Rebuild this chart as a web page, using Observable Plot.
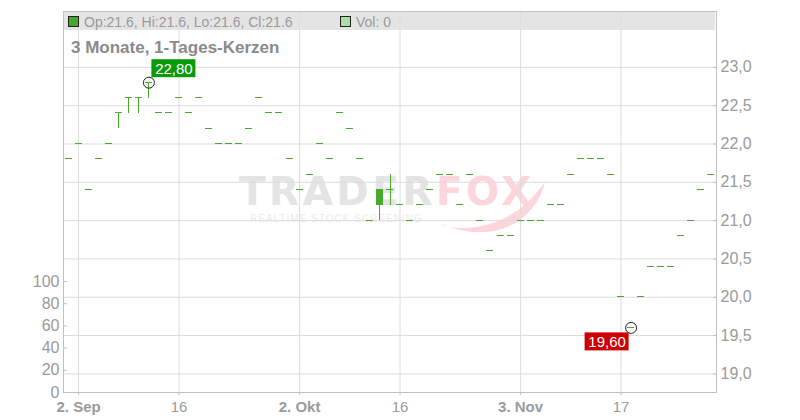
<!DOCTYPE html>
<html>
<head>
<meta charset="utf-8">
<script src="https://cdn.jsdelivr.net/npm/d3@7"></script>
<script src="https://cdn.jsdelivr.net/npm/@observablehq/plot@0.6"></script>
<style>
  body { margin: 0; background: #fff; font-family: "Liberation Sans", Arial, sans-serif; }
  #wrap { position: relative; width: 800px; height: 420px; overflow: hidden; }
  .layer { position: absolute; left: 0; top: 0; width: 800px; height: 420px; }
  #hdr { pointer-events: none; }
  .band { position: absolute; left: 64px; top: 12px; width: 651px; height: 18px; background: rgba(222,222,222,0.82); }
  .sq { position: absolute; top: 16px; width: 9px; height: 9px; border: 1px solid #222; }
  .leg { position: absolute; top: 15px; font-size: 14px; line-height: 14px; color: #9a9a9a; white-space: nowrap; }
  .title { position: absolute; left: 71px; top: 39px; font-size: 17px; line-height: 17px; font-weight: bold; color: #8a8a8a; white-space: nowrap; }
  .wm1 { position: absolute; left: 239px; top: 172px; font: bold 39px/39px "DejaVu Sans", sans-serif; letter-spacing: 3.5px; white-space: nowrap; }
  .wm2 { position: absolute; left: 250px; top: 213px; font: 10px/12px "Liberation Sans", Arial, sans-serif; letter-spacing: 1px; color: #ebebeb; white-space: nowrap; }
</style>
</head>
<body>
<div id="wrap">
  <div class="layer" id="wm">
    <div class="wm1"><span style="color:#e4e4e4">TRADER</span><span style="color:#fdd6db">FOX</span></div>
    <div class="wm2">REALTIME STOCK SCREENING</div>
    <svg class="layer" width="800" height="420">
      <path d="M432,221 Q468,236 505,218 Q528,206 545,182 Q540,204 520,220 Q486,244 432,221 Z" fill="#fdd6db"/>
      <path d="M446,226 Q470,230 494,220" stroke="#fff" stroke-width="1.5" fill="none"/>
    </svg>
  </div>
  <div class="layer" id="main"></div>
  <div class="layer" id="vol"></div>
  <div class="layer" id="hdr">
    <div class="band"></div>
    <div class="sq" style="left:68px;background:#45a82a"></div>
    <div class="leg" id="legOHLC" style="left:84px"></div>
    <div class="sq" style="left:340px;background:#a9dfa6"></div>
    <div class="leg" id="legVol" style="left:356px"></div>
    <div class="title">3 Monate, 1-Tages-Kerzen</div>
  </div>
</div>
<script>
// ---- data (trading days) ----
const dates = [
  "2025-09-01","2025-09-02","2025-09-03","2025-09-04","2025-09-05","2025-09-08","2025-09-09","2025-09-10","2025-09-11","2025-09-12",
  "2025-09-15","2025-09-16","2025-09-17","2025-09-18","2025-09-19","2025-09-22","2025-09-23","2025-09-24","2025-09-25","2025-09-26",
  "2025-09-29","2025-09-30","2025-10-01","2025-10-02","2025-10-03","2025-10-06","2025-10-07","2025-10-08","2025-10-09","2025-10-10",
  "2025-10-13","2025-10-14","2025-10-15","2025-10-16","2025-10-17","2025-10-20","2025-10-21","2025-10-22","2025-10-23","2025-10-24",
  "2025-10-27","2025-10-28","2025-10-29","2025-10-30","2025-10-31","2025-11-03","2025-11-04","2025-11-05","2025-11-06","2025-11-07",
  "2025-11-10","2025-11-11","2025-11-12","2025-11-13","2025-11-14","2025-11-17","2025-11-18","2025-11-19","2025-11-20","2025-11-21",
  "2025-11-24","2025-11-25","2025-11-26","2025-11-27","2025-11-28"
];
const open = [
  21.8,22.0,21.4,21.8,22.0,22.4,22.6,22.6,22.8,22.4,
  22.4,22.6,22.4,22.6,22.2,22.0,22.0,22.0,22.2,22.6,
  22.4,22.4,21.8,21.4,21.6,22.0,21.8,22.4,22.2,21.8,
  21.0,21.2,21.4,21.2,21.0,21.2,21.4,21.6,21.6,21.2,
  21.6,21.0,20.6,20.8,20.8,21.0,21.0,21.0,21.2,21.2,
  21.6,21.8,21.8,21.8,21.6,20.0,19.6,20.0,20.4,20.4,
  20.4,20.8,21.0,21.4,21.6
];
const high = [
  21.8,22.0,21.4,21.8,22.0,22.4,22.6,22.6,22.8,22.4,
  22.4,22.6,22.4,22.6,22.2,22.0,22.0,22.0,22.2,22.6,
  22.4,22.4,21.8,21.4,21.6,22.0,21.8,22.4,22.2,21.8,
  21.0,21.4,21.6,21.2,21.0,21.2,21.4,21.6,21.6,21.2,
  21.6,21.0,20.6,20.8,20.8,21.0,21.0,21.0,21.2,21.2,
  21.6,21.8,21.8,21.8,21.6,20.0,19.6,20.0,20.4,20.4,
  20.4,20.8,21.0,21.4,21.6
];
const low = [
  21.8,22.0,21.4,21.8,22.0,22.2,22.4,22.4,22.6,22.4,
  22.4,22.6,22.4,22.6,22.2,22.0,22.0,22.0,22.2,22.6,
  22.4,22.4,21.8,21.4,21.6,22.0,21.8,22.4,22.2,21.8,
  21.0,21.0,21.2,21.2,21.0,21.2,21.4,21.6,21.6,21.2,
  21.6,21.0,20.6,20.8,20.8,21.0,21.0,21.0,21.2,21.2,
  21.6,21.8,21.8,21.8,21.6,20.0,19.6,20.0,20.4,20.4,
  20.4,20.8,21.0,21.4,21.6
];
const close = [
  21.8,22.0,21.4,21.8,22.0,22.4,22.6,22.6,22.8,22.4,
  22.4,22.6,22.4,22.6,22.2,22.0,22.0,22.0,22.2,22.6,
  22.4,22.4,21.8,21.4,21.6,22.0,21.8,22.4,22.2,21.8,
  21.0,21.4,21.4,21.2,21.0,21.2,21.4,21.6,21.6,21.2,
  21.6,21.0,20.6,20.8,20.8,21.0,21.0,21.0,21.2,21.2,
  21.6,21.8,21.8,21.8,21.6,20.0,19.6,20.0,20.4,20.4,
  20.4,20.8,21.0,21.4,21.6
];
const volume = [
  0,0,0,0,0,0,0,0,0,0, 0,0,0,0,0,0,0,0,0,0, 0,0,0,0,0,0,0,0,0,0,
  0,0,0,0,0,0,0,0,0,0, 0,0,0,0,0,0,0,0,0,0, 0,0,0,0,0,0,0,0,0,0,
  0,0,0,0,0
];
const xTickDates  = ["2025-09-02","2025-09-16","2025-10-02","2025-10-16","2025-11-03","2025-11-17"];
const xTickLabels = ["2. Sep","16","2. Okt","16","3. Nov","17"];
const xTickBold   = [true,false,true,false,true,false];
const priceTicks  = [19.0,19.5,20.0,20.5,21.0,21.5,22.0,22.5,23.0];
const volumeTicks = [0,20,40,60,80,100];

// ---- build ----
const green = "#48a92c";
const font = "Liberation Sans, Arial, sans-serif";
const data = dates.map((d, i) => ({i, date: d, open: open[i], high: high[i], low: low[i], close: close[i]}));
const tickIdx = xTickDates.map(d => dates.indexOf(d));
const labelOf = new Map(tickIdx.map((t, k) => [t, xTickLabels[k]]));
const boldTicks = tickIdx.filter((t, k) => xTickBold[k]);
const normTicks = tickIdx.filter((t, k) => !xTickBold[k]);
const fmtPrice = v => v.toFixed(1).replace(".", ",");
const fmtLabel = v => v.toFixed(2).replace(".", ",");
const hiIdx = high.indexOf(d3.max(high));
const loIdx = low.indexOf(d3.min(low));
const last = dates.length - 1;

document.getElementById("legOHLC").textContent =
  `Op:${open[last]}, Hi:${high[last]}, Lo:${low[last]}, Cl:${close[last]}`;
document.getElementById("legVol").textContent = `Vol: ${volume[last]}`;

const axisCommon = {stroke: "#c0c0c0", fill: "#9a9a9a", label: null};

const main = Plot.plot({
  width: 800, height: 420,
  marginLeft: 63, marginRight: 84, marginTop: 11, marginBottom: 28,
  style: {background: "transparent", fontFamily: font, overflow: "visible"},
  x: {domain: [-0.5, dates.length - 0.5], axis: null, label: null},
  y: {domain: [18.757, 23.729], axis: null, label: null},
  marks: [
    Plot.gridX(tickIdx, {stroke: "#dcdcdc", strokeOpacity: 1}),
    Plot.gridY(priceTicks, {stroke: "#dcdcdc", strokeOpacity: 1}),
    Plot.frame({stroke: "#c0c0c0"}),
    Plot.axisY(priceTicks, {anchor: "right", tickSize: -4, tickPadding: 8, tickFormat: fmtPrice, fontSize: 16, ...axisCommon}),
    Plot.axisX(boldTicks, {anchor: "bottom", tickSize: 3, tickPadding: 6, tickFormat: t => labelOf.get(t), fontSize: 15, fontWeight: "bold", ...axisCommon}),
    Plot.axisX(normTicks, {anchor: "bottom", tickSize: 3, tickPadding: 6, tickFormat: t => labelOf.get(t), fontSize: 15, ...axisCommon}),
    Plot.ruleX(data.filter(d => d.high > d.low), {x: "i", y1: "low", y2: "high", stroke: green, shapeRendering: "crispEdges"}),
    Plot.rect(data, {x1: "i", x2: "i", y1: "open", y2: "close", fill: green,
      insetLeft: -3.5, insetRight: -3.5, insetTop: -0.5, insetBottom: -0.5, shapeRendering: "crispEdges"}),
    // max marker
    Plot.dot([hiIdx], {x: i => i, y: i => high[i], r: 5.5, stroke: "#222", fill: "none", strokeWidth: 1}),
    Plot.rect([hiIdx], {x1: i => i, x2: i => i, y1: i => high[i], y2: i => high[i], fill: "#0a9a0a",
      insetLeft: 3, insetRight: -47, insetTop: -23, insetBottom: 5}),
    Plot.text([hiIdx], {x: i => i, y: i => high[i], text: i => fmtLabel(high[i]), dx: 25, dy: -14, fill: "white", fontSize: 15}),
    // min marker
    Plot.dot([loIdx], {x: i => i, y: i => low[i], r: 5.5, stroke: "#222", fill: "none", strokeWidth: 1}),
    Plot.rect([loIdx], {x1: i => i, x2: i => i, y1: i => low[i], y2: i => low[i], fill: "#cc0000",
      insetLeft: -46, insetRight: 2, insetTop: 5, insetBottom: -23}),
    Plot.text([loIdx], {x: i => i, y: i => low[i], text: i => fmtLabel(low[i]), dx: -24, dy: 14, fill: "white", fontSize: 15})
  ]
});
document.getElementById("main").appendChild(main);

const vol = Plot.plot({
  width: 800, height: 420,
  marginLeft: 63, marginRight: 84, marginTop: 281, marginBottom: 28,
  style: {background: "transparent", fontFamily: font, overflow: "visible"},
  y: {domain: [0, 100], axis: null, label: null},
  marks: [
    Plot.axisY(volumeTicks, {anchor: "left", tickSize: -4, tickPadding: 8, fontSize: 16, ...axisCommon})
  ]
});
document.getElementById("vol").appendChild(vol);
</script>
</body>
</html>
